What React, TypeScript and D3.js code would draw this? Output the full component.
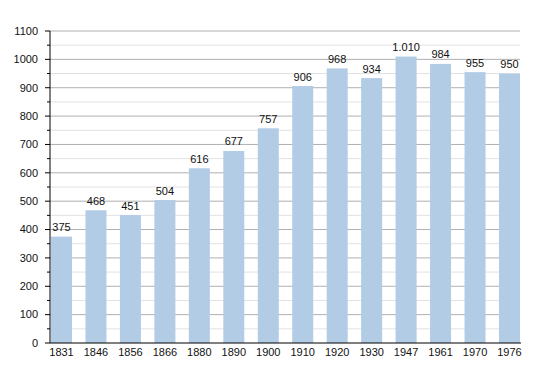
import React from "react";
import { scaleBand, scaleLinear, range } from "d3";

const years = ["1831", "1846", "1856", "1866", "1880", "1890", "1900", "1910", "1920", "1930", "1947", "1961", "1970", "1976"];
const population = [375, 468, 451, 504, 616, 677, 757, 906, 968, 934, 1010, 984, 955, 950];
const yMax = 1100;

const width = 550;
const height = 373;
const margin = { top: 31, right: 30, bottom: 30, left: 50 };

// thousands with a dot, as in the source
const fmt = (v: number) => String(v).replace(/\B(?=(\d{3})+(?!\d))/g, ".");

export default function App() {
  const x = scaleBand()
    .domain(years)
    .range([margin.left + 1, width - margin.right])
    .paddingInner(0.39)
    .paddingOuter(0);

  const y = scaleLinear()
    .domain([0, yMax])
    .range([height - margin.bottom, margin.top]);

  const major = range(0, yMax + 1, 100);
  const minor = range(50, yMax, 100);
  const x0 = margin.left;
  const x1 = width - margin.right;

  return (
    <svg width={width} height={height} style={{ position: "absolute", left: 0, top: 0, fontFamily: "'Liberation Sans', Arial, sans-serif" }}>
      <rect width={width} height={height} fill="#fff" />
      {/* grid */}
      {minor.map((v) => (
        <g key={"m" + v}>
          <line x1={x0} x2={x1} y1={y(v)} y2={y(v)} stroke="#e2e2e2" />
          <line x1={x0 - 3} x2={x0} y1={y(v)} y2={y(v)} stroke="#000" />
        </g>
      ))}
      {major.map((v) => (
        <g key={"M" + v}>
          {v > 0 && <line x1={x0} x2={x1} y1={y(v)} y2={y(v)} stroke="#b0b0b0" />}
          <line x1={x0 - 5} x2={x0} y1={y(v)} y2={y(v)} stroke="#000" />
          <text x={x0 - 12} y={y(v)} dy="0.35em" textAnchor="end" fontSize={11} fill="#111">
            {v}
          </text>
        </g>
      ))}
      {/* bars */}
      {years.map((yr, i) => (
        <g key={yr}>
          <rect x={x(yr)} y={y(population[i])} width={x.bandwidth()} height={y(0) - y(population[i])} fill="#b3cce6" />
          <text x={x(yr)! + x.bandwidth() / 2} y={y(population[i]) - 5.5} textAnchor="middle" fontSize={11} fill="#111">
            {fmt(population[i])}
          </text>
          <text x={x(yr)! + x.bandwidth() / 2} y={y(0) + 13} textAnchor="middle" fontSize={11} fill="#111">
            {yr}
          </text>
        </g>
      ))}
      {/* axes */}
      <line x1={x0} x2={x0} y1={y(yMax)} y2={y(0)} stroke="#000" />
      <line x1={x0} x2={x1 + 1} y1={y(0)} y2={y(0)} stroke="#000" />
    </svg>
  );
}
